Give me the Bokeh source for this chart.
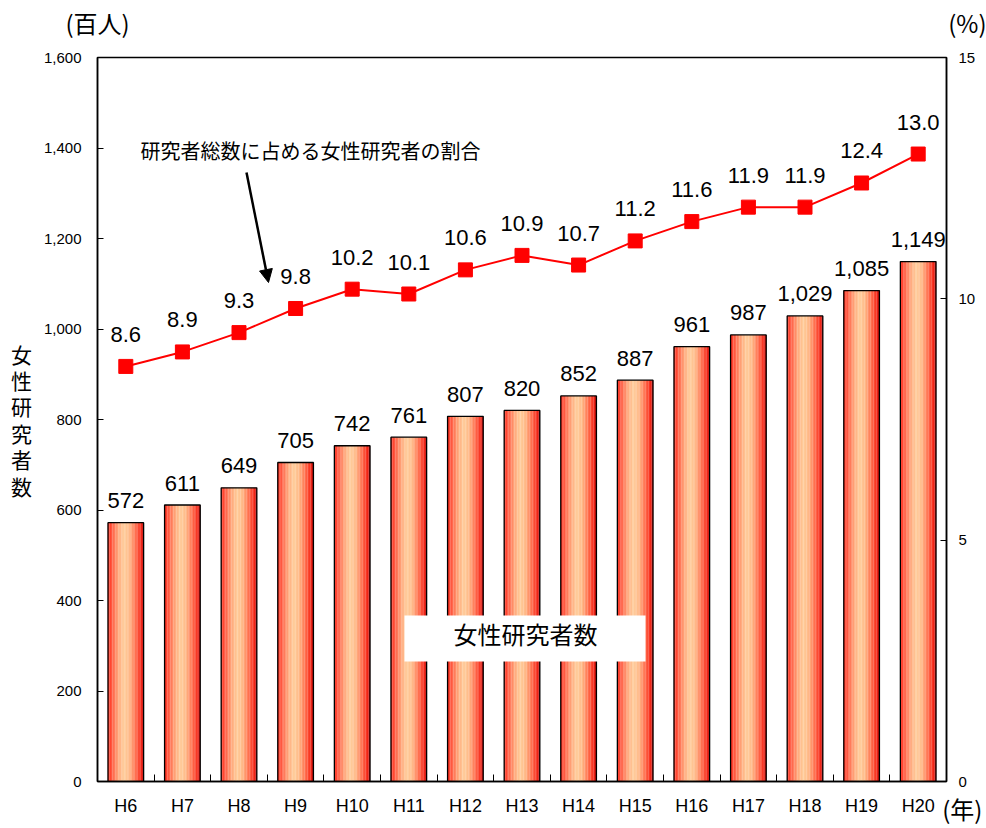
import numpy as np
from bokeh.plotting import figure
from bokeh.models import (Range1d, LinearAxis, FixedTicker, ColumnDataSource, Label,
                          Arrow, NormalHead, CustomJSTickFormatter)
from bokeh.transform import dodge
from bokeh.core.properties import value
from bokeh.embed import file_html
from bokeh.resources import INLINE

# ---- data ----
years = ["H6", "H7", "H8", "H9", "H10", "H11", "H12", "H13", "H14", "H15",
         "H16", "H17", "H18", "H19", "H20"]
researchers = [572, 611, 649, 705, 742, 761, 807, 820, 852, 887, 961, 987, 1029, 1085, 1149]
ratio = [8.6, 8.9, 9.3, 9.8, 10.2, 10.1, 10.6, 10.9, 10.7, 11.2, 11.6, 11.9, 11.9, 12.4, 13.0]
left_ticks = [0, 200, 400, 600, 800, 1000, 1200, 1400, 1600]
right_ticks = [0, 5, 10, 15]
unit_left = "(百人)"
unit_right = "(%)"
unit_year = "(年)"
left_title = "女性研究者数"
line_note = "研究者総数に占める女性研究者の割合"
bar_note = "女性研究者数"

NUM_FONT = "'Liberation Sans', Arial, sans-serif"
JP_FONT = "'Noto Sans CJK JP', sans-serif"

src = ColumnDataSource(dict(
    idx=list(range(len(years))),
    val=researchers,
    val_lbl=[f"{v:,}" for v in researchers],
    ratio=ratio,
    ratio_lbl=[f"{r:.1f}" for r in ratio],
))

p = figure(width=986, height=828, x_range=Range1d(-0.5, 14.5), y_range=Range1d(0, 1600),
           output_backend="svg", toolbar_location=None,
           min_border_left=97, min_border_right=40, min_border_top=57, min_border_bottom=47)
p.extra_y_ranges = {"pct": Range1d(0, 15)}
p.extra_x_ranges = {"edge": Range1d(0, 1)}
p.xgrid.visible = False
p.ygrid.visible = False
p.outline_line_color = "black"
p.outline_line_width = 1.5
p.background_fill_color = "white"
p.border_fill_color = "white"

# pixel helpers for in-frame annotation placement
FL, FB, FW, FH = 97, 781, 849, 724
def dx(px):
    return (px - FL) / (FW / 15) - 0.5
def dy(py):
    return (FB - py) * 1600 / FH

# ---- gradient bars (strips) ----
W = 0.63
N = 24
stops = [(0.0, (255, 40, 25)), (0.12, (255, 95, 70)), (0.3, (255, 170, 125)),
         (0.45, (255, 205, 155)), (0.6, (255, 185, 135)), (0.8, (255, 100, 70)),
         (0.93, (245, 40, 25)), (1.0, (190, 10, 10))]
def grad(t):
    for (t0, c0), (t1, c1) in zip(stops[:-1], stops[1:]):
        if t0 <= t <= t1:
            f = (t - t0) / (t1 - t0)
            c = [int(round(a + (b - a) * f)) for a, b in zip(c0, c1)]
            return "#%02x%02x%02x" % tuple(c)
    return "#%02x%02x%02x" % stops[-1][1]

sw = W / N
for j in range(N):
    off = -W / 2 + (j + 0.5) * sw
    p.vbar(x=dodge("idx", off, range=p.x_range), top="val", bottom=0, width=sw * 1.08,
           source=src, fill_color=grad((j + 0.5) / N), line_color=None)
p.vbar(x="idx", top="val", bottom=0, width=W, source=src, fill_color=None,
       line_color="black", line_width=1.3)

# bar labels
p.text(x="idx", y="val", text="val_lbl", source=src, text_align="center",
       text_baseline="middle", y_offset=-22, text_font_size="22px",
       text_font=value(NUM_FONT), text_color="black")

# ---- ratio line ----
p.line(x="idx", y="ratio", source=src, y_range_name="pct", line_color="#FF0000", line_width=2)
p.scatter(x="idx", y="ratio", source=src, y_range_name="pct", marker="square", size=14,
          fill_color="#FF0000", line_color="#FF0000")
p.text(x="idx", y="ratio", text="ratio_lbl", source=src, y_range_name="pct",
       text_align="center", text_baseline="middle", y_offset=-32, text_font_size="22px",
       text_font=value(NUM_FONT), text_color="black")

# ---- axes ----
xa = p.xaxis[0]
xa.ticker = FixedTicker(ticks=list(range(15)), minor_ticks=[i - 0.5 for i in range(16)])
xa.formatter = CustomJSTickFormatter(args=dict(labels=years),
                                     code="const i = Math.round(tick); return labels[i] ?? '';")
xa.major_tick_in = 0
xa.major_tick_out = 0
xa.minor_tick_in = 7
xa.minor_tick_out = 0
xa.minor_tick_line_color = "black"
xa.axis_line_color = "black"
xa.axis_line_width = 1.5
xa.major_label_text_font = NUM_FONT
xa.major_label_text_font_size = "18px"
xa.major_label_text_color = "black"
xa.major_label_standoff = 14

ya = p.yaxis[0]
ya.ticker = FixedTicker(ticks=left_ticks)
ya.formatter = CustomJSTickFormatter(code="return tick.toLocaleString('en-US');")
ya.major_tick_in = 6
ya.major_tick_out = 0
ya.minor_tick_line_color = None
ya.axis_line_color = "black"
ya.axis_line_width = 1.5
ya.major_label_text_font = NUM_FONT
ya.major_label_text_font_size = "15px"
ya.major_label_text_color = "black"
ya.major_label_standoff = 16
ya.axis_label = "\n".join(left_title)
ya.axis_label_orientation = "horizontal"
ya.axis_label_text_font = JP_FONT
ya.axis_label_text_font_size = "21px"
ya.axis_label_text_font_style = "normal"
ya.axis_label_text_color = "black"
ya.axis_label_text_line_height = 0.88
ya.axis_label_standoff = 9

ra = LinearAxis(y_range_name="pct", ticker=FixedTicker(ticks=right_ticks))
ra.major_tick_in = 6
ra.major_tick_out = 0
ra.minor_tick_line_color = None
ra.axis_line_color = "black"
ra.axis_line_width = 1.5
ra.major_label_text_font = NUM_FONT
ra.major_label_text_font_size = "15px"
ra.major_label_text_color = "black"
ra.major_label_standoff = 12
p.add_layout(ra, "right")

# unit labels placed at the frame edges through an extra 0..1 x-range
SP = "\u3000"
top_ax = LinearAxis(x_range_name="edge", ticker=FixedTicker(ticks=[0, 1]),
                    formatter=CustomJSTickFormatter(
                        args=dict(a=unit_left, b=SP * 3 + "\u2002" + unit_right),
                        code="return tick < 0.5 ? a : b;"))
top_ax.axis_line_color = None
top_ax.major_tick_line_color = None
top_ax.minor_tick_line_color = None
top_ax.major_label_text_font = JP_FONT
top_ax.major_label_text_font_size = "24px"
top_ax.major_label_text_color = "black"
top_ax.major_label_standoff = 12
p.add_layout(top_ax, "above")

yr_ax = LinearAxis(x_range_name="edge", ticker=FixedTicker(ticks=[1]),
                   formatter=CustomJSTickFormatter(args=dict(a=SP * 2 + unit_year),
                                                   code="return a;"))
yr_ax.axis_line_color = None
yr_ax.major_tick_line_color = None
yr_ax.minor_tick_line_color = None
yr_ax.major_label_text_font = JP_FONT
yr_ax.major_label_text_font_size = "24px"
yr_ax.major_label_text_color = "black"
yr_ax.major_label_standoff = -34
p.add_layout(yr_ax, "below")

# ---- in-frame annotations ----
p.add_layout(Arrow(x_start=dx(246), y_start=dy(172), x_end=dx(268), y_end=dy(282),
                   line_color="black", line_width=2.5,
                   end=NormalHead(size=13, fill_color="black", line_color="black")))
p.add_layout(Label(x=dx(140), y=dy(150), text=line_note,
                   text_font=JP_FONT, text_font_size="20px", text_align="left",
                   text_baseline="middle", text_color="black"))

p.quad(left=dx(404), right=dx(645), top=dy(615), bottom=dy(661),
       fill_color="white", line_color=None)
p.add_layout(Label(x=dx(525), y=dy(633), text=bar_note, text_font=JP_FONT,
                   text_font_size="24px", text_align="center", text_baseline="middle",
                   text_color="black"))

open("out.html", "w").write(file_html(p, INLINE))
